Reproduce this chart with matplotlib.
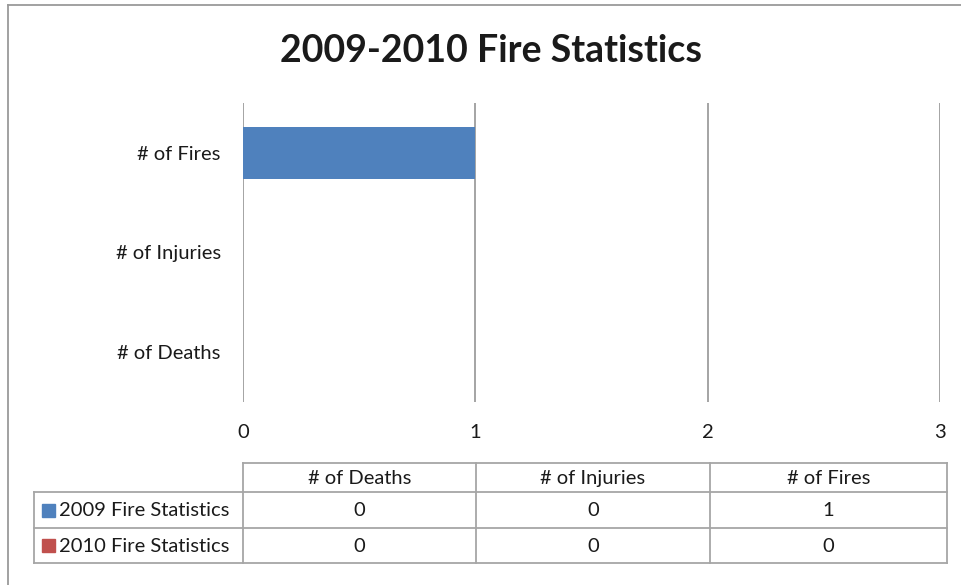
import matplotlib
matplotlib.use("Agg")
import matplotlib.pyplot as plt
from matplotlib.patches import Rectangle
from matplotlib.lines import Line2D

title = "2009-2010 Fire Statistics"
categories = ["# of Deaths", "# of Injuries", "# of Fires"]
series_names = ["2009 Fire Statistics", "2010 Fire Statistics"]
values_2009 = [0, 0, 1]
values_2010 = [0, 0, 0]
series_values = [values_2009, values_2010]
colors = ["#4F81BD", "#C0504D"]
xticks = [0, 1, 2, 3]

W, H = 961, 585
FS = 14.5
plt.rcParams['font.family'] = ['Lato', 'DejaVu Sans']
fig = plt.figure(figsize=(W / 100, H / 100), dpi=100)

def px(x0, y0, x1, y1):
    return [x0 / W, 1 - y1 / H, (x1 - x0) / W, (y1 - y0) / H]

# outer border (top & left visible)
bg = fig.add_axes([0, 0, 1, 1])
bg.set_xlim(0, W); bg.set_ylim(H, 0); bg.axis('off')
bg.add_line(Line2D([8, 970], [5, 5], color="#9A9A9A", lw=1.3))
bg.add_line(Line2D([8, 8], [5, 600], color="#9A9A9A", lw=1.3))

fig.text(491 / W, 1 - 51 / H, title, ha='center', va='center',
         fontsize=27, fontweight='bold', color='#1a1a1a')

ax = fig.add_axes(px(243, 103, 940, 402))
y = list(range(len(categories)))
for vals, c in zip(series_values, colors):
    ax.barh(y, vals, height=0.52, color=c, zorder=3)
ax.set_xlim(xticks[0], xticks[-1])
ax.set_ylim(-0.5, len(categories) - 0.5)
ax.set_xticks(xticks)
ax.set_xticklabels([str(t) for t in xticks], fontsize=FS, color='#1a1a1a')
ax.set_yticks(y)
ax.set_yticklabels(categories, fontsize=FS, color='#1a1a1a')
ax.tick_params(axis='both', length=0)
ax.tick_params(axis='x', pad=16)
ax.tick_params(axis='y', pad=16)
for s in ax.spines.values():
    s.set_visible(False)
ax.grid(axis='x', color='#8C8C8C', lw=1.1, zorder=0)
ax.set_axisbelow(True)

# data table
col_x = [34, 243, 476, 710, 947]
row_y = [463, 492, 528, 563]
lc = "#A6A6A6"
bg.add_line(Line2D([243, 947], [row_y[0]] * 2, color=lc, lw=1.3))
for yy in row_y[1:]:
    bg.add_line(Line2D([col_x[0], col_x[-1]], [yy] * 2, color=lc, lw=1.3))
bg.add_line(Line2D([col_x[0]] * 2, [row_y[1], row_y[-1]], color=lc, lw=1.3))
for xx in col_x[1:]:
    bg.add_line(Line2D([xx] * 2, [row_y[0], row_y[-1]], color=lc, lw=1.3))

for j, cat in enumerate(categories):
    cx = (col_x[j + 1] + col_x[j + 2]) / 2
    bg.text(cx, (row_y[0] + row_y[1]) / 2 + 1, cat, ha='center', va='center',
            fontsize=FS, color='#1a1a1a')
for i, (name, vals, c) in enumerate(zip(series_names, series_values, colors)):
    cy = (row_y[i + 1] + row_y[i + 2]) / 2
    bg.add_patch(Rectangle((42, cy - 6.5), 13, 13, color=c))
    bg.text(59, cy + 1, name, ha='left', va='center', fontsize=FS, color='#1a1a1a')
    for j, v in enumerate(vals):
        cx = (col_x[j + 1] + col_x[j + 2]) / 2
        bg.text(cx, cy + 1, str(v), ha='center', va='center', fontsize=FS, color='#1a1a1a')

fig.savefig("out.png", dpi=100, facecolor='white')
